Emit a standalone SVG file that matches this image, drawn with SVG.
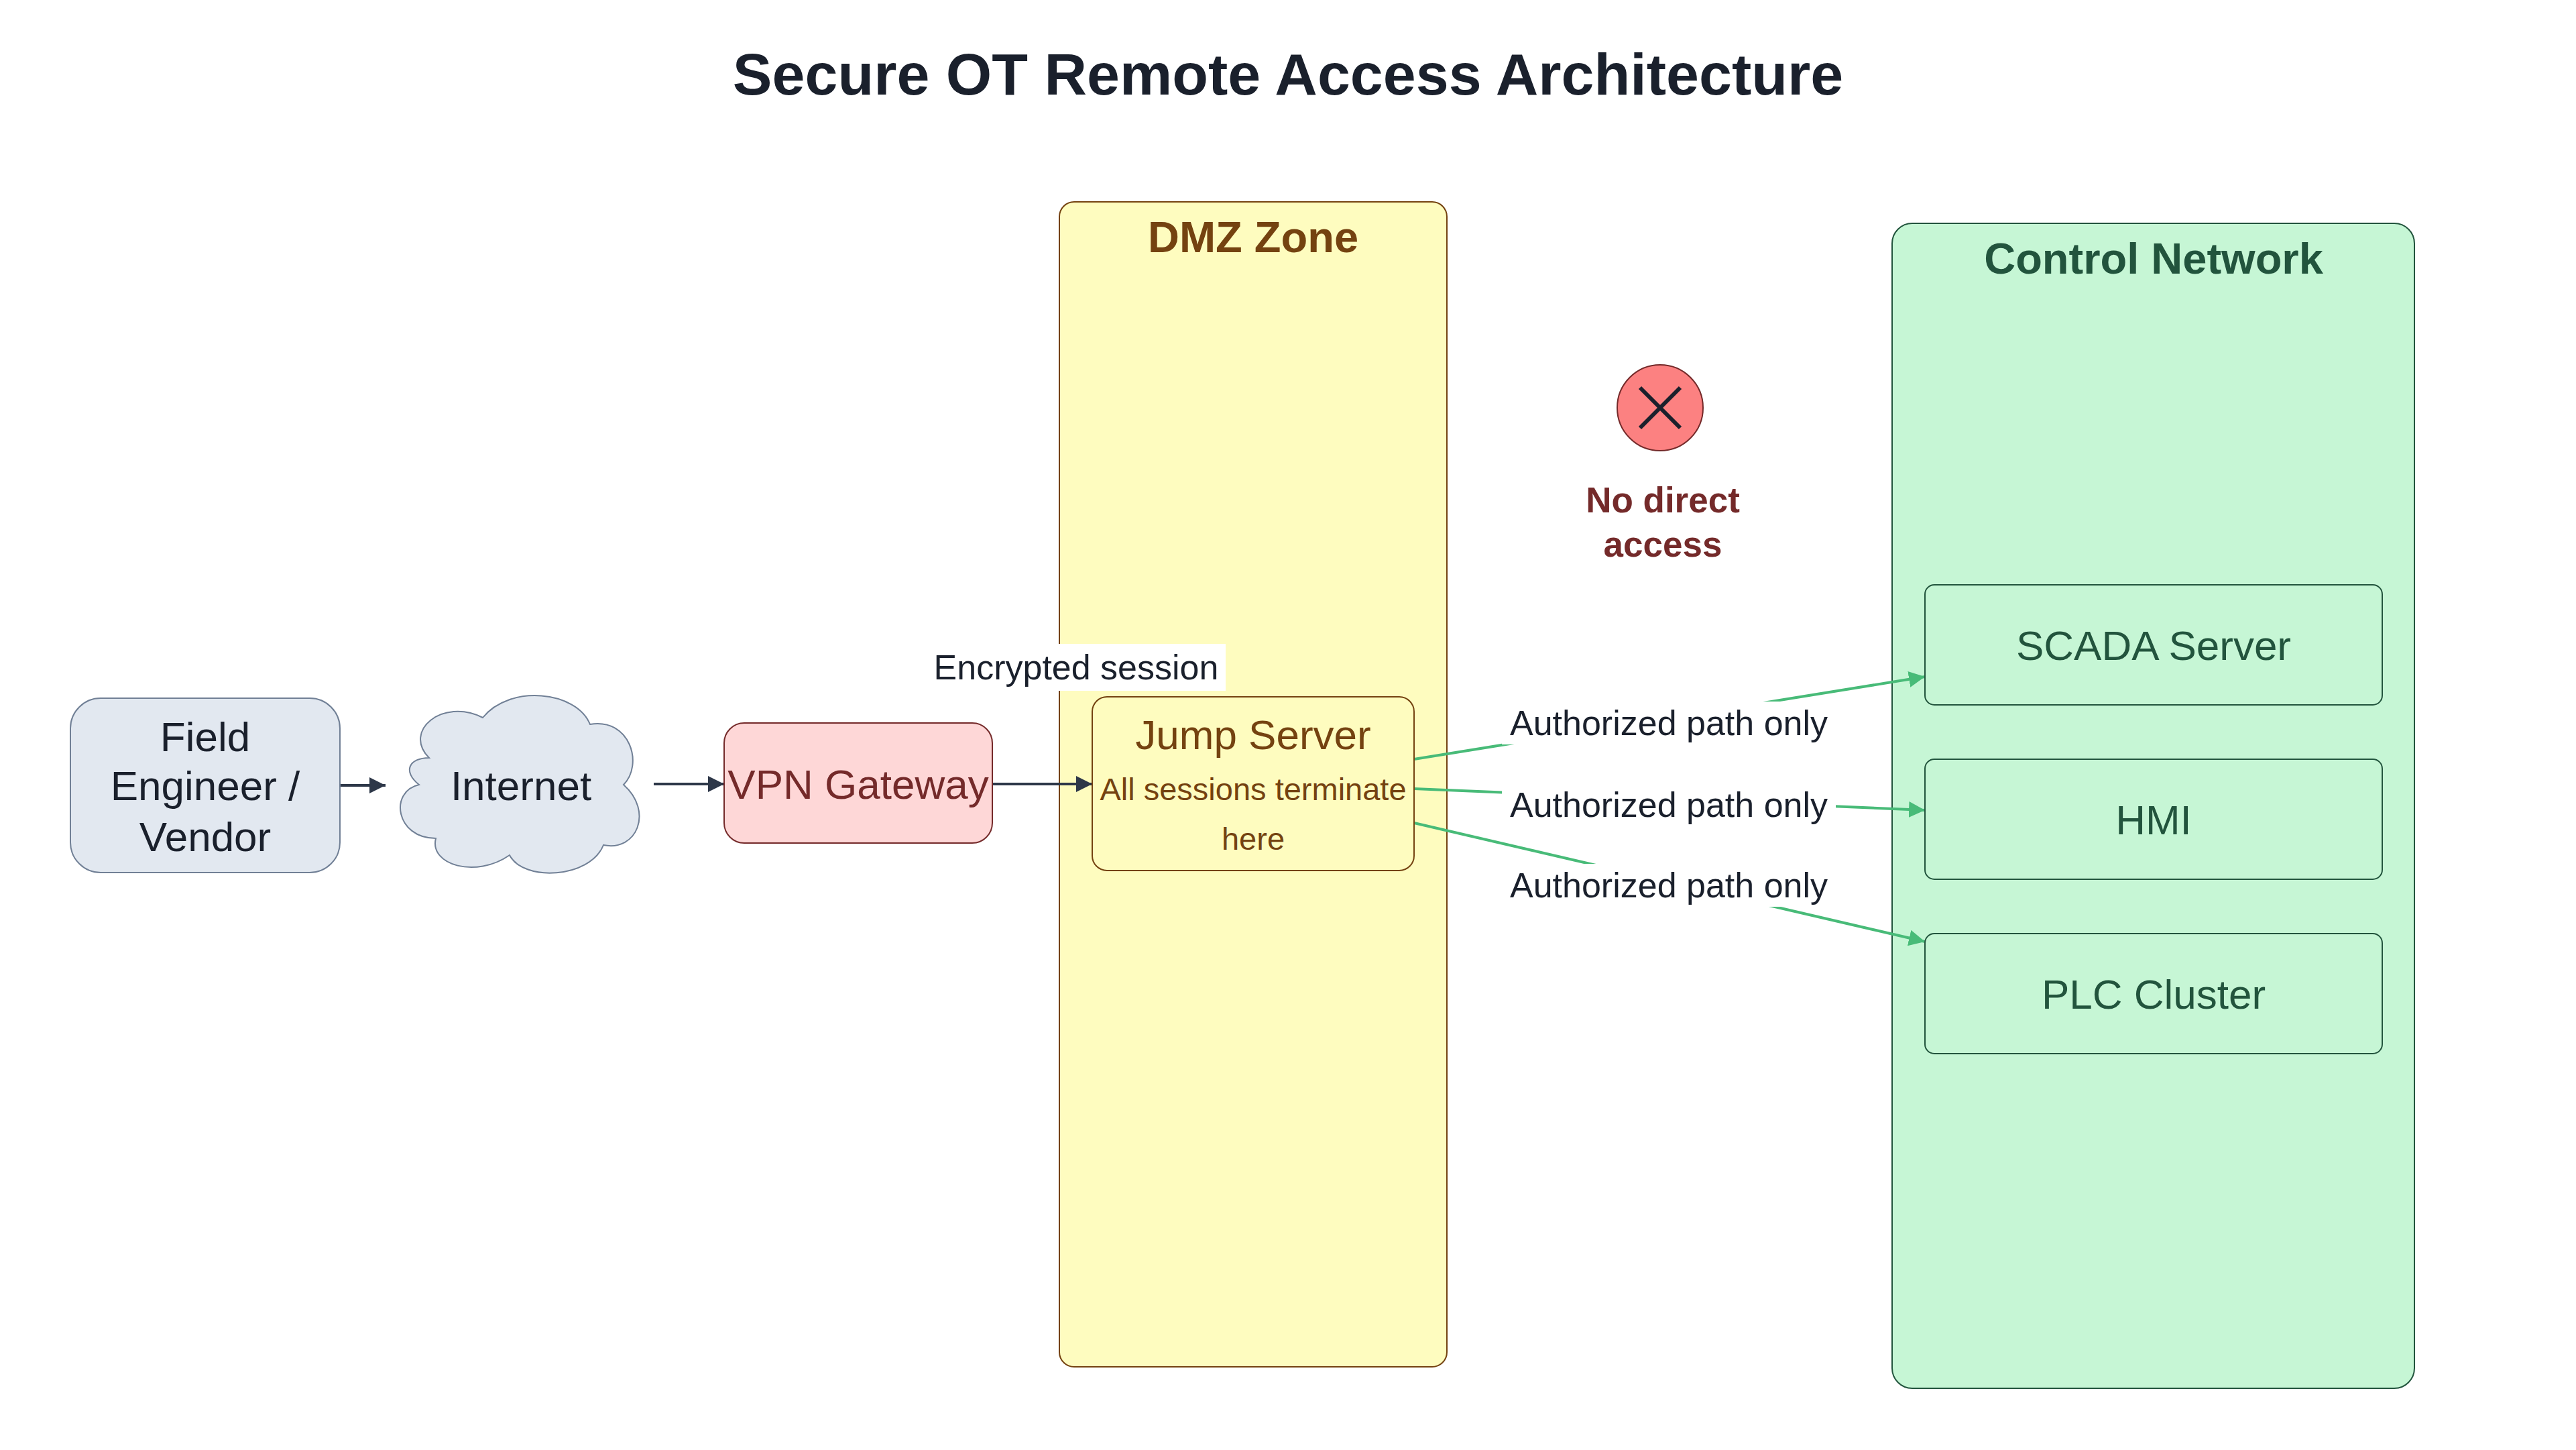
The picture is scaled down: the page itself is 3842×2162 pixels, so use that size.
<svg xmlns="http://www.w3.org/2000/svg" width="3842" height="2162" viewBox="0 0 3842 2162">
<defs>
<style>
text{font-family:"Liberation Sans",Arial,sans-serif;text-anchor:middle;dominant-baseline:central}
.lbl{font-size:52px;fill:#1a202c}
.node{font-size:62px}
.edge{fill:none;stroke-width:4}
</style>
<marker id="ad" viewBox="0 0 10 10" refX="10" refY="5" markerWidth="6" markerHeight="6" orient="auto"><path d="M0,0L10,5L0,10z" fill="#2d3748"/></marker>
<marker id="ag" viewBox="0 0 10 10" refX="10" refY="5" markerWidth="6" markerHeight="6" orient="auto"><path d="M0,0L10,5L0,10z" fill="#48bb78"/></marker>
</defs>
<rect width="3842" height="2162" fill="#fff"/>
<text x="1921" y="110" font-size="88" font-weight="bold" fill="#1a202c">Secure OT Remote Access Architecture</text>
<g id="dmz"><rect x="1580" y="301" width="578" height="1737" rx="22" fill="#fefcbf" stroke="#744210" stroke-width="2"/>
<text x="1869" y="353" font-size="65" font-weight="bold" fill="#744210">DMZ Zone</text></g>
<g id="control"><rect x="2822" y="333" width="779" height="1737" rx="30" fill="#c6f6d5" stroke="#22543d" stroke-width="2"/>
<text x="3212" y="385" font-size="65" font-weight="bold" fill="#22543d">Control Network</text></g>
<g id="connectors">
<path class="edge" d="M507,1171H575" stroke="#2d3748" marker-end="url(#ad)"/>
<path class="edge" d="M975,1169H1080" stroke="#2d3748" marker-end="url(#ad)"/>
<path class="edge" d="M1480,1169H1629" stroke="#2d3748" marker-end="url(#ad)"/>
<rect x="1378" y="960" width="450" height="70" fill="#fff"/>
<text class="lbl" x="1605" y="995">Encrypted session</text>
<path class="edge" d="M2109,1132L2871,1009" stroke="#48bb78" marker-end="url(#ag)"/>
<path class="edge" d="M2109,1176L2871,1208" stroke="#48bb78" marker-end="url(#ag)"/>
<path class="edge" d="M2109,1227L2871,1404" stroke="#48bb78" marker-end="url(#ag)"/>
<g fill="#fff"><rect x="2240" y="1046" width="498" height="64"/><rect x="2240" y="1168" width="498" height="64"/><rect x="2240" y="1288" width="498" height="64"/></g>
<text class="lbl" x="2489" y="1078">Authorized path only</text>
<text class="lbl" x="2489" y="1200">Authorized path only</text>
<text class="lbl" x="2489" y="1320">Authorized path only</text>
</g>
<g id="field"><rect x="105" y="1041" width="402" height="260" rx="45" fill="#e2e8f0" stroke="#718096" stroke-width="2"/>
<text class="node" x="306" y="1098" fill="#1a202c">Field</text><text class="node" x="306" y="1171" fill="#1a202c">Engineer /</text><text class="node" x="306" y="1247" fill="#1a202c">Vendor</text></g>
<g id="internet"><path d="M640,1130C600,1090 660,1040 720,1070C760,1020 860,1030 880,1080C940,1070 960,1140 930,1170C975,1210 950,1270 900,1260C880,1310 780,1315 760,1275C710,1310 640,1290 650,1250C590,1250 580,1180 625,1170C600,1150 610,1130 640,1130Z" fill="#e2e8f0" stroke="#718096" stroke-width="2"/>
<text class="node" x="777" y="1171" fill="#1a202c">Internet</text></g>
<g id="vpn"><rect x="1080" y="1078" width="400" height="179" rx="30" fill="#fed7d7" stroke="#742a2a" stroke-width="2"/>
<text class="node" x="1280" y="1169" fill="#742a2a">VPN Gateway</text></g>
<g id="jump"><rect x="1629" y="1039" width="480" height="259" rx="22" fill="#fefcbf" stroke="#744210" stroke-width="2"/>
<text class="node" x="1869" y="1095" fill="#744210">Jump Server</text>
<text x="1869" y="1176" font-size="47" fill="#744210">All sessions terminate</text>
<text x="1869" y="1250" font-size="47" fill="#744210">here</text></g>
<g id="nodirect"><ellipse cx="2476" cy="608" rx="64" ry="64" fill="#fc8181" stroke="#742a2a" stroke-width="2"/>
<path d="M2446,578L2506,638M2506,578L2446,638" stroke="#1a202c" stroke-width="6"/>
<text x="2480" y="745" font-size="53" font-weight="bold" fill="#742a2a">No direct</text>
<text x="2480" y="811" font-size="53" font-weight="bold" fill="#742a2a">access</text></g>
<g id="scada"><rect x="2871" y="872" width="682" height="179" rx="14" fill="#c6f6d5" stroke="#22543d" stroke-width="2"/>
<text class="node" x="3212" y="962" fill="#22543d">SCADA Server</text></g>
<g id="hmi"><rect x="2871" y="1132" width="682" height="179" rx="14" fill="#c6f6d5" stroke="#22543d" stroke-width="2"/>
<text class="node" x="3212" y="1222" fill="#22543d">HMI</text></g>
<g id="plc"><rect x="2871" y="1392" width="682" height="179" rx="14" fill="#c6f6d5" stroke="#22543d" stroke-width="2"/>
<text class="node" x="3212" y="1482" fill="#22543d">PLC Cluster</text></g>
</svg>
